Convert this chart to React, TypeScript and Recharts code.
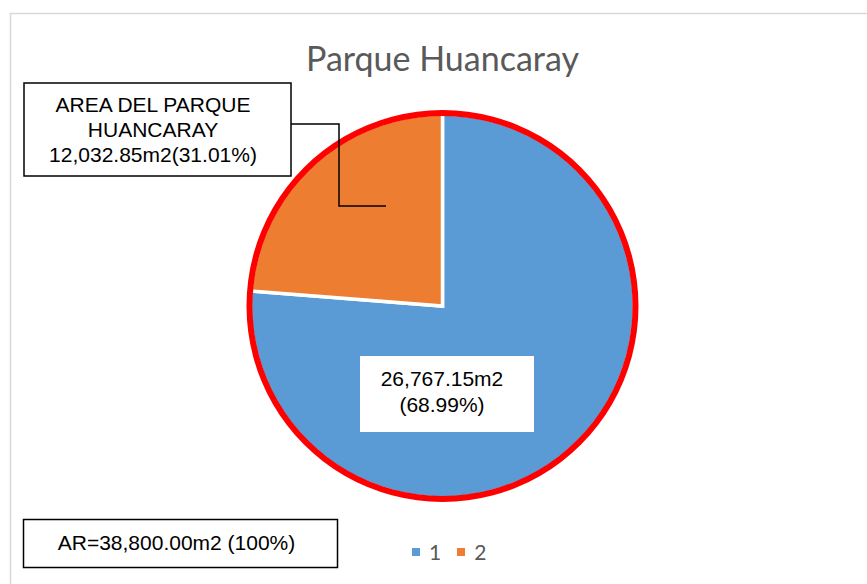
import { PieChart, Pie, Cell, Legend } from "recharts";

// slice shares as drawn in the picture (labels carry the surveyed figures)
const categories = ["1", "2"];
const shares = [76.25, 23.75];
const colors = ["#5B9BD5", "#ED7D31"];

const title = "Parque Huancaray";
const parkLabel = ["AREA DEL PARQUE", "HUANCARAY", "12,032.85m2(31.01%)"];
const restLabel = ["26,767.15m2", "(68.99%)"];
const totalLabel = "AR=38,800.00m2 (100%)";

const data = categories.map((name, i) => ({ name, value: shares[i] }));
const ring = [{ name: "borde", value: 1 }];

const font = "'Liberation Sans', Arial, sans-serif";

function LegendContent() {
  return (
    <div style={{ display: "flex", alignItems: "center", fontFamily: "Lato, sans-serif", fontSize: 21, color: "#595959" }}>
      {categories.map((c, i) => (
        <div key={c} style={{ display: "flex", alignItems: "center", marginRight: 16 }}>
          <span style={{ width: 8, height: 8, background: colors[i], display: "inline-block", marginRight: 9 }} />
          <span>{c}</span>
        </div>
      ))}
    </div>
  );
}

export default function App() {
  return (
    <div style={{ position: "absolute", left: 0, top: 0, width: 867, height: 584, background: "#fff" }}>
      <svg width={867} height={584} style={{ position: "absolute", left: 0, top: 0 }}>
        <rect x={10.5} y={13.5} width={880} height={600} fill="#fff" stroke="#d9d9d9" strokeWidth={1.5} />
        <text x={442.5} y={71} textAnchor="middle" fontFamily="Lato, sans-serif" fontSize={34} fill="#595959">
          {title}
        </text>
      </svg>
      <PieChart
        width={867}
        height={584}
        margin={{ top: 0, right: 0, bottom: 0, left: 0 }}
        style={{ position: "absolute", left: 0, top: 0 }}
      >
        <Pie
          data={data}
          dataKey="value"
          nameKey="name"
          cx={442.5}
          cy={306}
          outerRadius={192}
          startAngle={90}
          endAngle={-270}
          stroke="#fff"
          strokeWidth={3.5}
          isAnimationActive={false}
        >
          {data.map((d, i) => (
            <Cell key={d.name} fill={colors[i]} />
          ))}
        </Pie>
        <Pie
          data={ring}
          dataKey="value"
          cx={442.5}
          cy={306}
          innerRadius={190}
          outerRadius={196}
          startAngle={90}
          endAngle={-270}
          fill="#FF0000"
          stroke="none"
          legendType="none"
          isAnimationActive={false}
        />
        <Legend
          content={<LegendContent />}
          wrapperStyle={{ position: "absolute", left: 412, top: 539, width: 120, height: 26 }}
        />
      </PieChart>
      <svg width={867} height={584} style={{ position: "absolute", left: 0, top: 0, pointerEvents: "none" }}>
        <g fontFamily={font} fontSize={21} fill="#000">
          <rect x={24} y={83} width={267} height={93} fill="#fff" stroke="#000" strokeWidth={1.5} />
          {parkLabel.map((t, i) => (
            <text key={t} x={153} y={112 + i * 25} textAnchor="middle">
              {t}
            </text>
          ))}
          <polyline points="291,124 339,124 339,206 386,206" fill="none" stroke="#000" strokeWidth={1.5} />
          <rect x={360} y={356} width={174} height={76} fill="#fff" stroke="none" />
          {restLabel.map((t, i) => (
            <text key={t} x={442} y={386 + i * 26} textAnchor="middle">
              {t}
            </text>
          ))}
          <rect x={23.5} y={519.5} width={314} height={48} fill="#fff" stroke="#000" strokeWidth={1.5} />
          <text x={176.5} y={550} textAnchor="middle">
            {totalLabel}
          </text>
        </g>
      </svg>
    </div>
  );
}
